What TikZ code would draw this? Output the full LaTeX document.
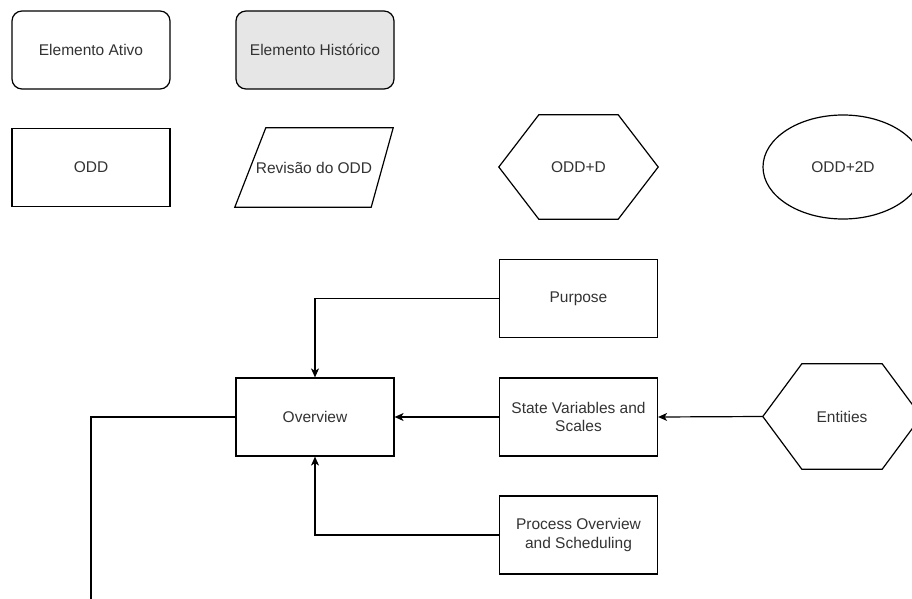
\documentclass[tikz,border=0pt]{standalone}
\usepackage{fontspec}
\setmainfont{Liberation Sans}
\usetikzlibrary{arrows.meta,calc,shapes.geometric}
\definecolor{txt}{HTML}{333333}
\definecolor{histfill}{HTML}{E6E6E6}
\begin{document}
\begin{tikzpicture}[x=1pt,y=-1pt,
  lbl/.style={font=\fontsize{15.5}{18.5}\selectfont, text=txt, align=center, inner sep=1pt},
  box/.style={lbl, draw=black, line width=1.2pt, minimum width=158pt, minimum height=78pt},
  roundbox/.style={box, rounded corners=10pt},
  shapeonly/.style={lbl, draw=none, minimum width=#1},
  edge/.style={draw=black, line width=1.2pt},
  arr/.style={edge, -{Stealth[length=9pt,width=8pt,inset=2.5pt]}},
]
\useasboundingbox (0,0) rectangle (912,599);
\fill[white] (0,0) rectangle (912,599);

% legend row 1
\node[roundbox] (ativo) at (91,50) {Elemento Ativo};
\node[roundbox, fill=histfill] (hist) at (315,50) {Elemento Hist\'orico};

% legend row 2
\node[box] (odd) at (91,167.5) {ODD};

\node[shapeonly=158pt, minimum height=79pt] (rev) at (314,167.5) {Revis\~ao do ODD};
\draw[edge] ($(rev.north west)+(31,0)$) -- (rev.north east)
  -- ($(rev.south east)+(-22,0)$) -- (rev.south west) -- cycle;

\node[shapeonly=159pt, minimum height=104pt] (oddd) at (578.5,167) {ODD+D};
\draw[edge] (oddd.west) -- ($(oddd.north west)+(40,0)$) -- ($(oddd.north east)+(-40,0)$)
  -- (oddd.east) -- ($(oddd.south east)+(-40,0)$) -- ($(oddd.south west)+(40,0)$) -- cycle;

\node[ellipse, draw=black, line width=1.2pt, lbl, minimum width=160pt, minimum height=104pt] (odd2d) at (843,167) {ODD+2D};

% main diagram
\node[box] (purpose) at (578.5,298.5) {Purpose};
\node[box] (overview) at (315,417) {Overview};
\node[box] (sv) at (578.5,417) {State Variables and\\Scales};
\node[box] (proc) at (578.5,535) {Process Overview\\and Scheduling};

\node[shapeonly=158pt, minimum height=105pt] (ent) at (842,416.5) {Entities};
\draw[edge] (ent.west) -- ($(ent.north west)+(39,0)$) -- ($(ent.north east)+(-39,0)$)
  -- (ent.east) -- ($(ent.south east)+(-39,0)$) -- ($(ent.south west)+(39,0)$) -- cycle;

\coordinate (down) at (91,610);

\draw[arr] (purpose.west) -| (overview.north);
\draw[arr] (sv.west) -- (overview.east);
\draw[arr] (proc.west) -| (overview.south);
\draw[arr] (ent.west) -- (sv.east);
\draw[edge] (overview.west) -| (down);
\end{tikzpicture}
\end{document}
